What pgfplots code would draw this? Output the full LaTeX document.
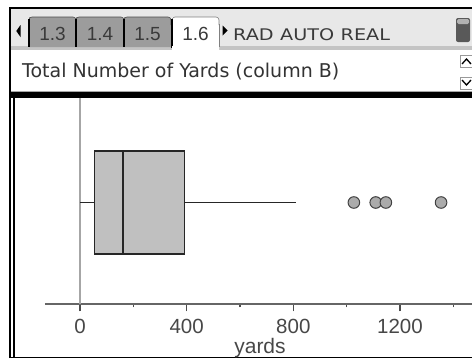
\documentclass[border=0pt]{standalone}
\usepackage{pgfplots}
\pgfplotsset{compat=1.18}
\usepackage{fontspec}
\setmainfont{DejaVu Sans}
\newfontfamily\lib{Liberation Sans}
\newfontfamily\widefont[FakeStretch=1.2]{DejaVu Sans}
\definecolor{tabbg}{HTML}{E8E8E8}
\definecolor{tabgray}{HTML}{9C9C9C}
\definecolor{bandgray}{HTML}{C4C4C4}
\definecolor{boxgray}{HTML}{C0C0C0}
\definecolor{txt}{HTML}{3A3A3A}
\begin{document}
\begin{tikzpicture}
\useasboundingbox (0pt,0pt) rectangle (472pt,360pt);
\begin{scope}[x=1pt,y=-1pt,shift={(0pt,360pt)}]
  % tab bar
  \fill[tabbg] (10,8) rectangle (472,47);
  \fill[bandgray] (10,46) rectangle (472,50);
  % inactive tabs
  \foreach \a/\b/\t in {29/76/1.3, 76/124/1.4, 124/171/1.5}{
    \fill[tabgray, rounded corners=3] (\a,47) [sharp corners]-- (\a,17) [rounded corners=3]-- (\b,17) [sharp corners] -- (\b,47) -- cycle;
    \draw[black!70, line width=0.6, rounded corners=3] (\a,25) -- (\a,17) -- (\b,17) -- (\b,25);
    \node[font=\lib\fontsize{19}{19}\selectfont, text=txt, anchor=base] at ({(\a+\b)/2},40) {\t};
  }
  \foreach \a in {29,76,124}{\draw[black, line width=2] (\a,19) -- (\a,47);}
  % active tab
  \fill[white, rounded corners=3] (172,50) [sharp corners]-- (172,17) [rounded corners=3]-- (219,17) [sharp corners]-- (219,50) -- cycle;
  \draw[black!50, line width=0.6, rounded corners=3] (172,25) -- (172,17) -- (219,17) -- (219,25);
  \draw[black!50, line width=0.6] (219,24) -- (219,47);
  \draw[black, line width=2] (172,19) -- (172,48);
  \node[font=\lib\fontsize{19}{19}\selectfont, text=txt, anchor=base] at (195.5,40) {1.6};
  % arrows
  \fill[black] (20.5,25) -- (20.5,37) -- (16.3,31) -- cycle;
  \fill[black] (222.5,25.5) -- (222.5,35.5) -- (227.5,30.5) -- cycle;
  \node[font=\widefont\fontsize{16}{16}\selectfont, text=txt, anchor=base west, inner sep=0] at (233,40) {RAD\hspace{6.5pt}AUTO\hspace{6.5pt}REAL};
  % battery
  \fill[black!65, rounded corners=2] (456,18) rectangle (470,42);
  \fill[black!30, rounded corners=1.5] (457,19) rectangle (469,24);
  % title area
  \fill[white] (10,50) rectangle (472,91);
  \fill[white] (172,46) rectangle (219,51);
  \draw[black!35, line width=0.8] (10,91) -- (472,91);
  \node[font=\fontsize{19}{19}\selectfont, text=black!80, anchor=base west, inner sep=0] at (22,77.3) {Total Number of Yards (column B)};
  % scroll arrows
  \draw[black!40, line width=0.6, fill=white] (460,55) rectangle (473,67);
  \draw[black, line width=1.3] (462,64) -- (466.5,59) -- (471,64);
  \draw[black!40, line width=0.6, fill=white] (460,77) rectangle (473,89);
  \draw[black, line width=1.3] (462,80) -- (466.5,85) -- (471,80);
  % black bar
  \fill[black] (10,92) rectangle (472,98);
  % frame
  \draw[black, line width=1.2] (10,358) -- (10,8) -- (472,8);
  \draw[black, line width=1.2] (14,98) -- (14,357.6);
  \draw[black, line width=1.2] (10,357.6) -- (472,357.6);
\end{scope}
\begin{axis}[
  at={(45pt,55.7pt)}, anchor=south west,
  scale only axis, width=427pt, height=206.3pt,
  xmin=-131.25, xmax=1470, ymin=0, ymax=206.3,
  axis x line*=bottom, axis y line=none, ytick=\empty,
  x axis line style={-, draw=black!60, line width=2pt},
  xtick={0,400,800,1200}, minor xtick={200,600,1000,1400},
  tick align=outside, major tick length=7pt, minor tick length=3pt,
  every tick/.style={black!70, line width=1.2pt},
  xticklabel style={font=\lib\fontsize{20.5}{20.5}\selectfont, text=black!72, inner sep=0pt, anchor=north, yshift=-7.7pt},
  /pgf/number format/assume math mode=true,
  /pgf/number format/1000 sep={},
  xlabel={yards},
  every axis x label/.style={at={(axis cs:675,0)}, anchor=base, yshift=-49pt, font=\lib\fontsize{21}{21}\selectfont, text=black!72},
  clip=false,
]
\addplot[draw=black!35, line width=1.5pt] coordinates {(0,0) (0,206.3)};
\addplot[draw=black!85, line width=1.4pt] coordinates {(0,101.8) (54,101.8)};
\addplot[draw=black!85, line width=1.4pt] coordinates {(391,101.8) (810,101.8)};
\addplot[fill=boxgray, draw=black!85, line width=1.4pt] coordinates {(54,50.3) (391,50.3) (391,153.3) (54,153.3)} -- cycle;
\addplot[draw=black!85, line width=1.4pt] coordinates {(162,50.3) (162,153.3)};
\addplot[only marks, mark=*, mark size=5.8pt, mark options={fill=black!33, draw=black!75, line width=1pt}] coordinates {(1027,101.8) (1109,101.8) (1147,101.8) (1354,101.8)};
\end{axis}
\end{tikzpicture}
\end{document}
